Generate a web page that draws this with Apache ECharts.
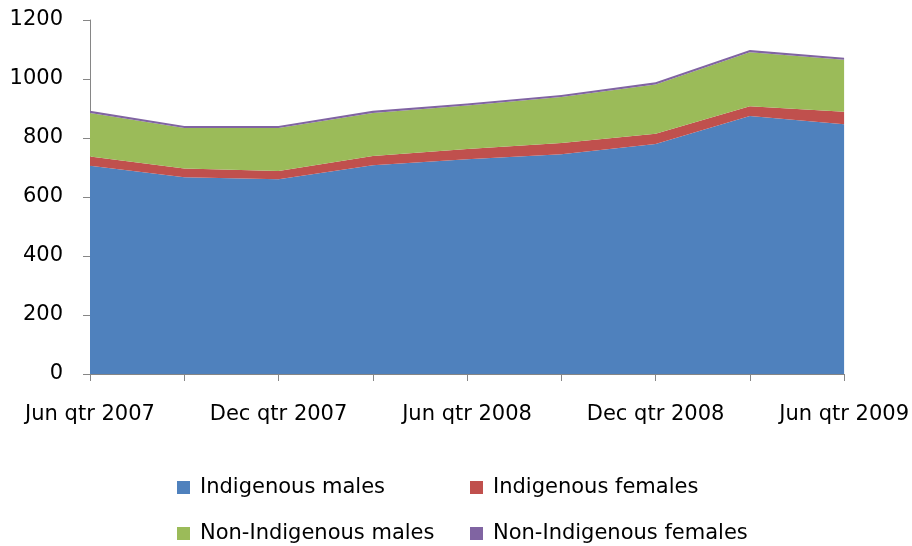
<!DOCTYPE html>
<html>
<head>
<meta charset="utf-8">
<script src="https://cdn.jsdelivr.net/npm/echarts@6/dist/echarts.min.js"></script>
<style>
html,body{margin:0;padding:0;background:#fff;}
#chart{width:912px;height:546px;}
</style>
</head>
<body>
<div id="chart"></div>
<script>
// quarters on the x axis
const quarters=[
    "Jun qtr 2007","Sep qtr 2007","Dec qtr 2007","Mar qtr 2008","Jun qtr 2008",
    "Sep qtr 2008","Dec qtr 2008","Mar qtr 2009","Jun qtr 2009"
];

// stacked series
const indigenousMales=[706,667,660,708,728,745,780,875,847];
const indigenousFemales=[31,30,28,31,35,38,34,33,42];
const nonIndigenousMales=[148,137,146,146,147,156,167,183,176];
const nonIndigenousFemales=[7,7,7,7,7,7,8,7,7];

const seriesNames=[
    "Indigenous males","Indigenous females",
    "Non-Indigenous males","Non-Indigenous females"
];
const seriesData=[indigenousMales,indigenousFemales,nonIndigenousMales,nonIndigenousFemales];
const colours=["#4F81BD","#C0504D","#9BBB59","#8064A2"];

const font="DejaVu Sans";
const axisGrey="#868686";

const chart=echarts.init(document.getElementById("chart"));

// legend is two rows of two, placed by hand
const legendPos=[[172,472],[465,472],[172,518],[465,518]];

chart.setOption({
    animation:false,
    grid:{left:90,right:66,top:20,bottom:172},
    legend:seriesNames.map((name,i)=>({
        data:[name],
        left:legendPos[i][0],
        top:legendPos[i][1],
        icon:"rect",
        itemWidth:13,
        itemHeight:13,
        itemGap:0,
        textStyle:{fontFamily:font,fontSize:21,color:"#000",padding:[0,0,0,5]}
    })),
    xAxis:{
        type:"category",
        data:quarters,
        boundaryGap:false,
        axisLine:{lineStyle:{color:axisGrey}},
        axisTick:{show:true,length:7,interval:0,lineStyle:{color:axisGrey}},
        axisLabel:{interval:1,margin:30,fontFamily:font,fontSize:21,color:"#000"}
    },
    yAxis:{
        type:"value",
        min:0,
        max:1200,
        interval:200,
        splitLine:{show:false},
        axisLine:{show:true,lineStyle:{color:axisGrey}},
        axisTick:{show:true,length:7,lineStyle:{color:axisGrey}},
        axisLabel:{
            margin:27,
            fontFamily:font,
            fontSize:21,
            color:"#000",
            formatter:v=>String(v)
        }
    },
    series:seriesNames.map((name,i)=>({
        name:name,
        type:"line",
        stack:"total",
        data:seriesData[i],
        symbol:"none",
        lineStyle:{width:0},
        areaStyle:{color:colours[i],opacity:1},
        itemStyle:{color:colours[i]}
    }))
});
</script>
</body>
</html>
